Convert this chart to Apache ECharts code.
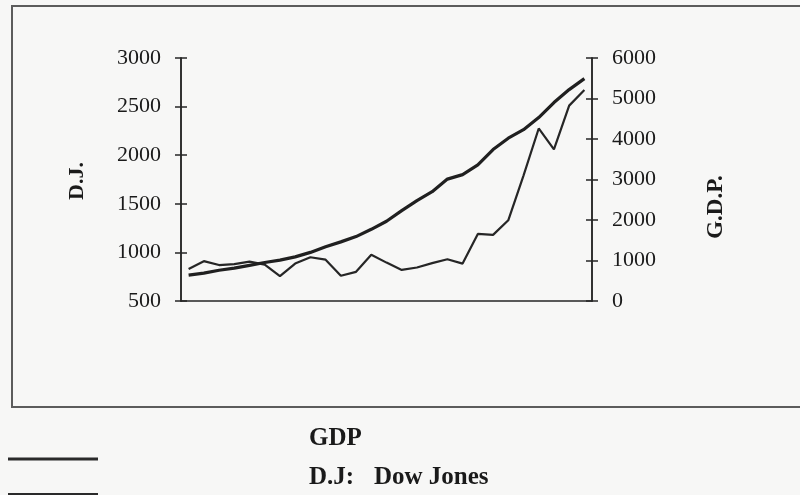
<!DOCTYPE html>
<html>
<head>
<meta charset="utf-8">
<style>
  html, body { margin: 0; padding: 0; background: #f7f7f6; }
  #chart { width: 800px; height: 495px; }
</style>
<script src="https://cdn.jsdelivr.net/npm/echarts@6/dist/echarts.min.js"></script>
</head>
<body>
<div id="chart"></div>
<script>
// Annual figures, 1964-1990
const years = ['1964','1965','1966','1967','1968','1969','1970','1971','1972','1973',
               '1974','1975','1976','1977','1978','1979','1980','1981','1982','1983',
               '1984','1985','1986','1987','1988','1989','1990'];

// Dow Jones average (left axis)
const dowJones = [830, 910, 870, 880, 905, 875, 755, 885, 950, 925,
                  760, 800, 975, 895, 820, 845, 890, 930, 885, 1190,
                  1180, 1330, 1790, 2275, 2060, 2510, 2670];

// Gross domestic product (right axis)
const gdp = [640, 690, 760, 810, 880, 950, 1010, 1090, 1200, 1340,
             1460, 1590, 1770, 1970, 2230, 2480, 2700, 3010, 3120, 3360,
             3740, 4020, 4230, 4530, 4900, 5220, 5490];

const leftTicks = { min: 500, max: 3000, interval: 500 };
const rightTicks = { min: 0, max: 6000, interval: 1000 };

const ink = '#262626';
const serif = '"Liberation Serif", "DejaVu Serif", serif';

const chart = echarts.init(document.getElementById('chart'), null, { renderer: 'canvas' });

// Each side gets two axes on the same line: one with outward ticks and labels,
// one with inward ticks, so the tick marks cross the axis line.
function valueAxis(pos, ticks, inside, showLabel) {
  return {
    type: 'value',
    position: pos,
    offset: 0,
    min: ticks.min,
    max: ticks.max,
    interval: ticks.interval,
    splitLine: { show: false },
    axisLine: { show: true, lineStyle: { color: ink, width: 1.5 } },
    axisTick: { show: true, inside: inside, length: 6, lineStyle: { color: ink, width: 1.5 } },
    axisLabel: {
      show: showLabel,
      margin: 20,
      color: '#1a1a1a',
      fontFamily: serif,
      fontSize: 22,
      formatter: function (v) { return String(v); }
    }
  };
}

chart.setOption({
  backgroundColor: '#f7f7f6',
  animation: false,
  grid: { left: 181, right: 208, top: 58, bottom: 194, containLabel: false },
  xAxis: {
    type: 'category',
    data: years,
    boundaryGap: true,
    axisLine: { show: true, lineStyle: { color: ink, width: 1.5 } },
    axisTick: { show: false },
    axisLabel: { show: false }
  },
  yAxis: [
    valueAxis('left', leftTicks, false, true),
    valueAxis('right', rightTicks, false, true),
    valueAxis('left', leftTicks, true, false),
    valueAxis('right', rightTicks, true, false)
  ],
  series: [
    {
      name: 'GDP',
      type: 'line',
      yAxisIndex: 1,
      data: gdp,
      showSymbol: false,
      lineStyle: { color: '#202020', width: 3.2 },
      z: 3
    },
    {
      name: 'D.J.',
      type: 'line',
      yAxisIndex: 0,
      data: dowJones,
      showSymbol: false,
      lineStyle: { color: '#262626', width: 2.2 },
      z: 2
    }
  ],
  graphic: [
    // frame around the plot panel
    { type: 'rect', shape: { x: 12, y: 6, width: 800, height: 401 },
      style: { fill: 'none', stroke: '#5c5c5c', lineWidth: 2 }, z: -1 },
    // axis titles
    { type: 'text', x: 77, y: 181, rotation: Math.PI / 2,
      style: { text: 'D.J.', fill: '#1a1a1a', font: 'bold 22px ' + serif,
               textAlign: 'center', textVerticalAlign: 'middle' } },
    { type: 'text', x: 716, y: 207, rotation: Math.PI / 2,
      style: { text: 'G.D.P.', fill: '#1a1a1a', font: 'bold 23px ' + serif,
               textAlign: 'center', textVerticalAlign: 'middle' } },
    // key
    { type: 'line', shape: { x1: 8, y1: 459, x2: 98, y2: 459 },
      style: { stroke: '#2a2a2a', lineWidth: 3 } },
    { type: 'line', shape: { x1: 8, y1: 494, x2: 98, y2: 494 },
      style: { stroke: '#2a2a2a', lineWidth: 2 } },
    { type: 'text', x: 309, y: 451,
      style: { text: 'GDP', fill: '#1a1a1a', font: 'bold 25px ' + serif,
               textAlign: 'left', textVerticalAlign: 'bottom' } },
    { type: 'text', x: 309, y: 490,
      style: { text: 'D.J:', fill: '#1a1a1a', font: 'bold 25px ' + serif,
               textAlign: 'left', textVerticalAlign: 'bottom' } },
    { type: 'text', x: 374, y: 490,
      style: { text: 'Dow Jones', fill: '#1a1a1a', font: 'bold 25px ' + serif,
               textAlign: 'left', textVerticalAlign: 'bottom' } }
  ]
});
</script>
</body>
</html>
